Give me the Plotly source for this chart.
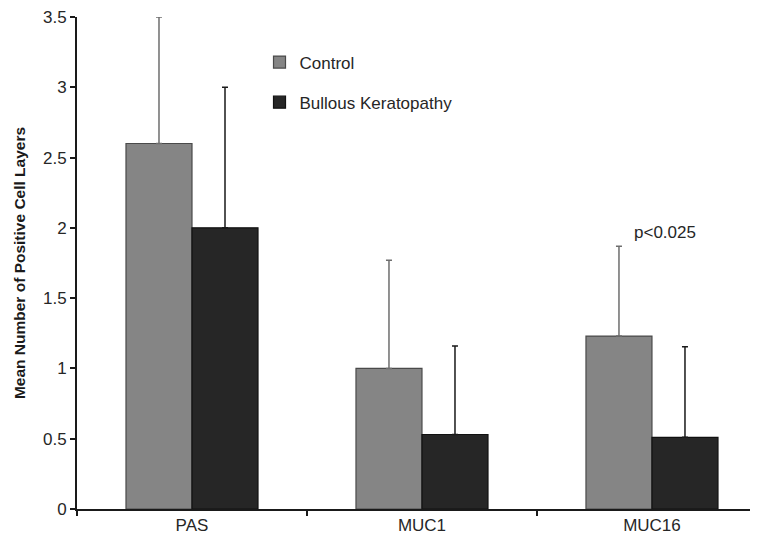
import plotly.graph_objects as go

categories = ["PAS", "MUC1", "MUC16"]
control = [2.6, 1.0, 1.23]
control_err = [0.9, 0.77, 0.64]
bullous = [2.0, 0.53, 0.51]
bullous_err = [1.0, 0.63, 0.645]
y_ticks = [0, 0.5, 1, 1.5, 2, 2.5, 3, 3.5]
y_tick_text = ["0", "0.5", "1", "1.5", "2", "2.5", "3", "3.5"]

FONT = "Liberation Sans, Arial, sans-serif"

fig = go.Figure()
fig.add_trace(go.Bar(
    x=categories, y=control, name="Control", legendgroup="a",
    marker=dict(color="#858585", line=dict(color="#4a4a4a", width=1.2)),
    error_y=dict(type="data", array=control_err, arrayminus=[0, 0, 0],
                 symmetric=False, color="#6e6e6e", thickness=1.5, width=3),
))
fig.add_trace(go.Bar(
    x=categories, y=bullous, name="Bullous Keratopathy", legendgroup="b",
    marker=dict(color="#262626", line=dict(color="#111111", width=1.2)),
    error_y=dict(type="data", array=bullous_err, arrayminus=[0, 0, 0],
                 symmetric=False, color="#1a1a1a", thickness=1.5, width=3),
))

fig.add_annotation(x=2.057, y=1.97, xref="x", yref="y", text="p<0.025",
                   showarrow=False, font=dict(family=FONT, size=17, color="#262626"))

fig.update_layout(
    width=750, height=541,
    margin=dict(l=69, r=0, t=9, b=40, autoexpand=False),
    paper_bgcolor="white", plot_bgcolor="white",
    barmode="group", bargap=0.426, bargroupgap=0,
    font=dict(family=FONT, size=17, color="#262626"),
    showlegend=True,
    legend=dict(x=0.268, y=0.944, xanchor="left", yanchor="top",
                bgcolor="rgba(0,0,0,0)", tracegroupgap=15,
                font=dict(family=FONT, size=17, color="#262626")),
    xaxis=dict(type="category", range=[-0.5, 2.461], showline=True,
               linecolor="#1a1a1a", linewidth=2, ticks="outside",
               tickson="boundaries", ticklen=5, tickcolor="#1a1a1a",
               tickwidth=2, showgrid=False, zeroline=False,
               tickfont=dict(size=17), automargin=False,
               ticklabeloverflow="allow"),
    yaxis=dict(range=[0, 3.5], tickvals=y_ticks, ticktext=y_tick_text,
               showline=True, linecolor="#1a1a1a", linewidth=2,
               ticks="outside", ticklen=5, tickcolor="#1a1a1a", tickwidth=2,
               showgrid=False, zeroline=False, tickfont=dict(size=17),
               automargin=False, ticklabeloverflow="allow",
               title=dict(text="<b>Mean Number of Positive Cell Layers</b>",
                          font=dict(size=15.5, color="#1a1a1a"), standoff=14)),
)

fig.write_html("out.html")
